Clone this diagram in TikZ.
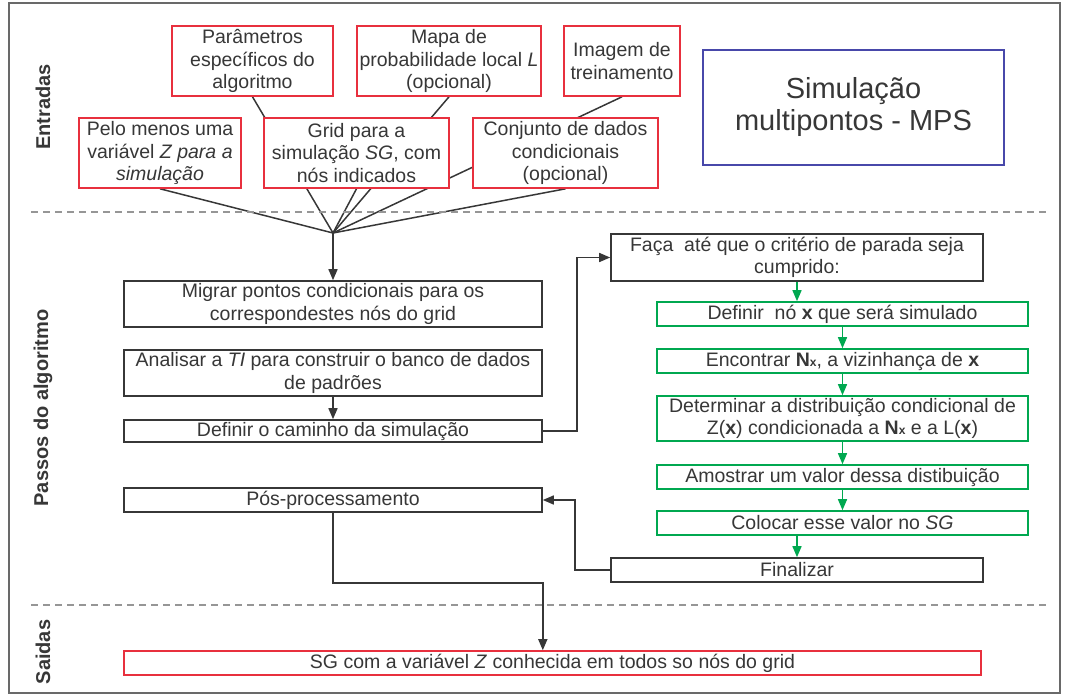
\documentclass[tikz,border=0pt]{standalone}
\usepackage{fontspec}
\setmainfont{Liberation Sans}
\usetikzlibrary{arrows.meta,backgrounds}

\definecolor{ink}{RGB}{55,55,55}
\definecolor{framegray}{RGB}{105,105,105}
\definecolor{dashgray}{RGB}{150,150,150}
\definecolor{boxred}{RGB}{232,48,62}
\definecolor{boxgreen}{RGB}{0,168,80}
\definecolor{boxblue}{RGB}{72,72,170}

\newcommand{\mainfs}{\fontsize{19.5}{22.5}\selectfont}
\newcommand{\Nx}{\textbf{N}{\fontsize{12}{12}\selectfont\bfseries x}}

\tikzset{
  box/.style={draw, fill=white, line width=1.6pt, inner sep=0pt, align=center,
              font=\mainfs, text=ink},
  inbox/.style={box, draw=boxred},
  stepbox/.style={box, draw=ink},
  loopbox/.style={box, draw=boxgreen},
  titlebox/.style={box, draw=boxblue, font=\fontsize{29}{32}\selectfont},
  lanelabel/.style={rotate=90, font=\fontsize{20}{22}\selectfont\bfseries, text=ink},
  feed/.style={draw=ink, line width=1.5pt},
  flow/.style={draw=ink, line width=1.5pt, -{Triangle[length=11pt,width=9pt]}},
  gflow/.style={draw=boxgreen, line width=1.5pt, -{Triangle[length=11pt,width=9pt]}},
  lane/.style={draw=dashgray, line width=1.3pt, dash pattern=on 7pt off 5pt},
}

\begin{document}
\begin{tikzpicture}[x=1pt,y=-1pt]
\useasboundingbox (0,0) rectangle (1065,695);

% outer frame
\draw[framegray, line width=2pt] (9,3) rectangle (1060,693);

% lane separators
\draw[lane] (31,212) -- (1050,212);
\draw[lane] (31,605) -- (1050,605);

% lane labels
\node[lanelabel] (lEntr) at (43,107) {Entradas};
\node[lanelabel] (lPass) at (43,408) {Passos do algoritmo};
\node[lanelabel] (lSaid) at (43,652) {Saidas};

% inputs
\node[inbox, minimum width=161pt, minimum height=70pt] (par) at (252.5,61)
  {Parâmetros\\ específicos do\\ algoritmo};
\node[inbox, minimum width=184pt, minimum height=70pt] (mapa) at (449,61)
  {Mapa de\\ probabilidade local \textit{L}\\ (opcional)};
\node[inbox, minimum width=116pt, minimum height=70pt] (img) at (622,61)
  {Imagem de\\ treinamento};
\node[inbox, minimum width=162pt, minimum height=70pt] (pelo) at (160,153)
  {Pelo menos uma\\ variável \textit{Z para a}\\ \textit{simulação}};
\node[inbox, minimum width=185pt, minimum height=70pt] (grid) at (356.5,153)
  {Grid para a\\ simulação \textit{SG}, com\\ nós indicados};
\node[inbox, minimum width=185pt, minimum height=70pt] (cond) at (565.5,153)
  {Conjunto de dados\\ condicionais\\ (opcional)};

\node[titlebox, minimum width=301pt, minimum height=115pt] (title) at (853.5,107.5)
  {Simulação\\ multipontos - MPS};

% main steps
\node[stepbox, minimum width=418pt, minimum height=46pt] (migr) at (333,304)
  {Migrar pontos condicionais para os\\ correspondestes nós do grid};
\node[stepbox, minimum width=418pt, minimum height=46pt] (anal) at (333,373)
  {Analisar a \textit{TI} para construir o banco de dados\\ de padrões};
\node[stepbox, minimum width=418pt, minimum height=22pt] (path) at (333,431)
  {Definir o caminho da simulação};
\node[stepbox, minimum width=418pt, minimum height=24pt] (post) at (333,500)
  {Pós-processamento};

% simulation loop
\node[stepbox, minimum width=372pt, minimum height=47pt] (loop) at (797,257.5)
  {Faça\ \ até que o critério de parada seja\\ cumprido:};
\node[loopbox, minimum width=371pt, minimum height=24pt] (node) at (842.5,314)
  {Definir\ \ nó \textbf{x} que será simulado};
\node[loopbox, minimum width=371pt, minimum height=24pt] (neig) at (842.5,361)
  {Encontrar \Nx, a vizinhança de \textbf{x}};
\node[loopbox, minimum width=371pt, minimum height=45pt] (dist) at (842.5,418.5)
  {Determinar a distribuição condicional de\\ Z(\textbf{x}) condicionada a \Nx{} e a L(\textbf{x})};
\node[loopbox, minimum width=371pt, minimum height=24pt] (samp) at (842.5,477)
  {Amostrar um valor dessa distibuição};
\node[loopbox, minimum width=371pt, minimum height=24pt] (put) at (842.5,523)
  {Colocar esse valor no \textit{SG}};
\node[stepbox, minimum width=372pt, minimum height=24pt] (fin) at (797,570)
  {Finalizar};

% output
\node[inbox, minimum width=857pt, minimum height=24pt] (out) at (552.5,663)
  {SG com a variável \textit{Z} conhecida em todos so nós do grid};

% all inputs gather at one point; their lines run behind the boxes
\coordinate (hub) at (333,233);
\begin{pgfonlayer}{background}
  \foreach \src in {pelo,par,grid,mapa,img,cond}
    \draw[feed] (hub) -- (\src.south);
\end{pgfonlayer}

\draw[flow] (hub) -- (migr.north);
\draw[flow] (anal) -- (path);
\draw[flow] (path.east) -- ++(34,0) |- (loop.west);
\draw[gflow] (loop.south) -- (loop.south |- node.north);
\draw[gflow] (node) -- (neig);
\draw[gflow] (neig) -- (dist);
\draw[gflow] (dist) -- (samp);
\draw[gflow] (samp) -- (put);
\draw[gflow] (fin.north |- put.south) -- (fin.north);
\draw[flow] (fin.west) -- ++(-35,0) |- (post.east);
\draw[flow] (post.south) -- ++(0,70) -| (out.north -| post.east);
\end{tikzpicture}
\end{document}
